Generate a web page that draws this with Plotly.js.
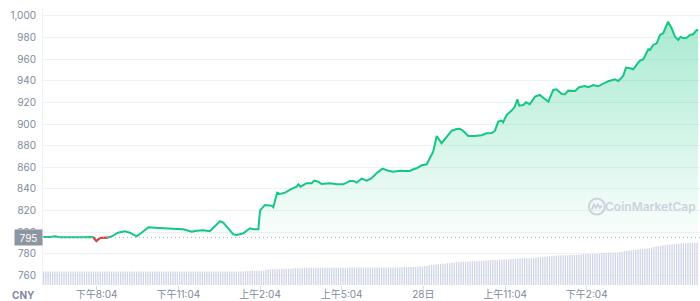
<!DOCTYPE html>
<html>
<head>
<meta charset="utf-8">
<script src="https://cdn.plot.ly/plotly-3.0.1.min.js"></script>
<style>
html,body{margin:0;padding:0;background:#fff;}
#chart{width:700px;height:301px;}
</style>
</head>
<body>
<div id="chart"></div>
<script>
// ---- data ----
const currency = "CNY";
const baselinePrice = 795;
const tickHours = [2, 5, 8, 11, 14, 17, 20];
const tickLabels = ["下午8:04", "下午11:04", "上午2:04", "上午5:04", "28日", "上午11:04", "下午2:04"];

const priceTime = [0.03,0.29,0.47,0.65,0.84,1.13,1.50,1.83,1.88,1.99,2.05,2.12,2.42,2.56,2.78,3.04,3.22,3.47,3.65,3.90,
4.14,4.39,4.57,4.81,5.18,5.49,5.67,5.92,6.16,6.35,6.53,6.65,6.83,7.02,7.14,7.39,7.63,7.75,7.94,8.00,
8.18,8.43,8.49,8.63,8.73,8.92,9.16,9.35,9.41,9.49,9.71,9.90,9.99,10.14,10.26,10.57,10.82,11.06,11.30,11.43,
11.55,11.73,11.92,12.10,12.28,12.50,12.71,12.89,13.14,13.50,13.63,13.75,13.94,14.12,14.36,14.49,14.67,14.86,15.04,15.22,
15.34,15.46,15.65,15.89,16.14,16.32,16.51,16.63,16.75,16.87,16.93,17.06,17.24,17.36,17.45,17.52,17.67,17.77,17.91,18.10,
18.28,18.46,18.59,18.77,18.89,19.08,19.20,19.32,19.45,19.57,19.72,19.93,20.06,20.24,20.42,20.61,20.79,21.04,21.16,21.34,
21.44,21.59,21.71,21.83,21.95,22.08,22.20,22.26,22.32,22.44,22.57,22.69,22.81,22.93,22.99,23.12,23.24,23.36,23.45,23.54,
23.67,23.79,23.91,24.04,24.09];

const priceValue = [795.4,795.4,796.1,795.2,795.2,795.0,795.2,795.4,795.0,791.6,793.1,794.6,795.0,796.1,799.4,800.7,799.4,796.1,799.4,804.4,
804.1,803.5,803.5,803.1,802.6,800.4,801.3,801.7,800.7,805.9,810.0,808.7,803.5,797.9,797.3,798.9,803.5,802.6,802.6,819.8,
825.1,824.4,823.0,836.5,835.3,836.5,839.9,842.0,844.2,842.0,845.2,845.2,847.6,846.6,844.5,845.2,844.2,844.2,847.3,847.3,
845.7,849.4,847.6,849.8,854.4,858.7,856.8,855.9,856.8,856.5,858.1,859.0,861.8,862.7,874.4,888.9,882.2,887.7,893.8,895.4,
895.7,893.8,888.9,888.9,889.6,891.4,891.7,893.8,902.2,903.1,901.6,908.4,912.4,916.1,922.9,917.0,917.6,920.1,918.3,925.3,
926.9,923.2,920.7,931.5,932.2,927.8,927.5,930.9,930.6,930.6,934.0,935.2,934.0,936.1,934.9,937.7,939.6,941.4,939.8,944.5,
952.2,951.6,950.7,954.7,958.6,959.9,966.0,969.2,968.5,973.2,974.7,982.4,984.0,991.7,994.7,988.6,980.8,977.8,980.8,979.4,
979.9,982.4,983.1,987.0,987.0];

// 24h volume, one bar every 5 minutes (12 per hour), starting at hour 0.05
const volumeStart = 0.05;
const volumeStep = 1 / 12;
const volumeValue = [
2.9,2.9,2.9,2.9,2.9,2.9,2.9,2.9,2.9,2.9,2.9,2.9,
2.9,2.9,2.9,2.9,2.9,2.9,2.9,2.9,2.9,2.9,2.9,2.9,
2.9,2.9,2.9,2.9,2.9,2.9,2.9,2.9,2.9,2.9,2.9,2.9,
2.9,2.9,2.9,2.9,2.9,2.9,2.9,2.9,2.9,2.9,2.9,2.9,
2.9,2.9,2.9,2.9,2.9,2.9,2.9,2.9,2.9,2.9,2.9,2.9,
2.9,2.9,2.9,2.9,2.9,2.9,2.9,2.9,2.9,2.9,2.9,2.9,
2.9,2.9,2.9,2.9,2.9,2.9,2.9,2.9,2.9,2.9,2.9,2.9,
2.9,2.9,2.9,2.9,2.9,3.0,3.0,3.1,3.1,3.1,3.1,3.1,
3.1,3.1,3.3,3.3,3.4,3.4,3.4,3.4,3.4,3.5,3.5,3.5,
3.5,3.5,3.6,3.6,3.6,3.6,3.6,3.7,3.7,3.7,3.7,3.7,
3.7,3.7,3.7,3.7,3.7,3.7,3.7,3.7,3.7,3.7,3.7,3.7,
3.7,3.7,3.7,3.8,3.8,3.8,3.8,3.8,3.8,3.8,3.8,3.8,
3.8,3.8,3.8,3.8,3.8,3.8,3.8,3.8,3.8,3.8,3.8,3.8,
3.8,3.8,3.9,3.9,3.9,3.9,3.9,3.9,3.9,4.0,4.0,4.0,
4.1,4.1,4.2,4.3,4.3,4.4,4.5,4.5,4.6,4.6,4.7,4.7,
4.8,4.8,4.9,5.0,5.0,5.0,5.0,5.0,5.1,5.1,5.1,5.1,
5.2,5.2,5.3,5.3,5.3,5.4,5.4,5.4,5.4,5.5,5.5,5.5,
5.5,5.5,5.6,5.6,5.7,5.7,5.7,5.7,5.8,5.8,5.8,5.8,
5.8,5.9,6.0,6.0,6.1,6.1,6.1,6.2,6.2,6.3,6.3,6.4,
6.4,6.4,6.4,6.4,6.5,6.5,6.5,6.5,6.6,6.6,6.7,6.7,
6.7,6.7,6.7,6.8,6.8,6.8,6.9,6.9,6.9,7.0,7.0,7.0,
7.0,7.0,7.1,7.2,7.3,7.4,7.5,7.5,7.6,7.6,7.7,7.7,
7.8,7.8,7.9,8.0,8.1,8.2,8.3,8.3,8.4,8.5,8.6,8.7,
8.7,8.8,8.8,8.9,8.9,9.0,9.0,9.0,9.1,9.1,9.1,9.1,
9.1];

// ---- build ----
if (priceTime.length !== priceValue.length) console.error("length mismatch", priceTime.length, priceValue.length);
const volumeTime = volumeValue.map((_, i) => volumeStart + i * volumeStep);

const GREEN = "#16c784", RED = "#ea3943";
const last = priceTime.length - 1;

// red segments: points below the baseline plus their neighbours
const redValue = priceValue.map((v, i) => {
  const below = (j) => j >= 0 && j <= last && priceValue[j] < baselinePrice;
  return (below(i) || below(i - 1) || below(i + 1)) ? v : null;
});

const traces = [
  { x: [priceTime[0], priceTime[last]], y: [baselinePrice, baselinePrice], type: "scatter", mode: "lines",
    line: { width: 0, color: "rgba(0,0,0,0)" }, hoverinfo: "skip", showlegend: false },
  { x: priceTime, y: priceValue, type: "scatter", mode: "lines", fill: "tonexty",
    fillgradient: { type: "vertical", start: baselinePrice, stop: 1000,
      colorscale: [[0, "rgba(22,199,132,0.02)"], [1, "rgba(22,199,132,0.38)"]] },
    line: { color: GREEN, width: 2, shape: "linear" }, showlegend: false },
  { x: priceTime, y: redValue, type: "scatter", mode: "lines", connectgaps: false,
    line: { color: RED, width: 2 }, showlegend: false },
  { x: volumeTime, y: volumeValue, type: "bar", yaxis: "y2", marker: { color: "#cfd4e5", line: { width: 0 } },
    showlegend: false, hoverinfo: "skip" }
];

const tickFont = { family: "Inter, 'Noto Sans CJK SC', sans-serif", size: 10, color: "#808a9d" };

const layout = {
  width: 700, height: 301,
  margin: { l: 43, r: 0, t: 7, b: 16, pad: 0 },
  paper_bgcolor: "#fff", plot_bgcolor: "#fff",
  bargap: 0.45,
  showlegend: false,
  xaxis: {
    range: [0.03, 24.16], showgrid: false, zeroline: false, showline: false,
    tickmode: "array", tickvals: tickHours, ticktext: tickLabels,
    ticks: "outside", ticklen: 4, tickcolor: "#d5dae6", tickfont: tickFont,
    ticklabelstandoff: -4
  },
  yaxis: {
    range: [751.0, 1008.3], tick0: 0, dtick: 20, tickformat: ",d",
    showgrid: true, gridcolor: "#eff2f5", gridwidth: 1, zeroline: false,
    showline: true, linecolor: "#eff2f5", linewidth: 1,
    ticks: "", tickfont: tickFont, ticklabelstandoff: 4
  },
  yaxis2: { overlaying: "y", range: [0, 60], visible: false, fixedrange: true },
  shapes: [
    { type: "line", xref: "paper", x0: 0, x1: 1, yref: "y", y0: baselinePrice, y1: baselinePrice,
      line: { color: "#a9b0bd", width: 1, dash: "1px,3px" }, layer: "above" },
    { type: "circle", xref: "paper", yref: "paper", xsizemode: "pixel", ysizemode: "pixel",
      xanchor: 0.843, yanchor: 0.282, x0: -8, x1: 8, y0: -8, y1: 8,
      line: { color: "#cdd2dc", width: 2 }, layer: "above" },
    { type: "path", xref: "paper", yref: "paper", xsizemode: "pixel", ysizemode: "pixel",
      xanchor: 0.843, yanchor: 0.282,
      path: "M -5 -3 L -3 2 L -1 -1 L 1 2 L 3 -1 L 5 1",
      line: { color: "#cdd2dc", width: 2 }, layer: "above" }
  ],
  annotations: [
    { text: String(baselinePrice), xref: "paper", x: 0, xanchor: "right", yref: "y", y: baselinePrice,
      showarrow: false, bgcolor: "#8e95a2", borderpad: 2,
      font: { family: "Inter, sans-serif", size: 10, color: "#ffffff" }, width: 23, height: 11 },
    { text: "<b>" + currency + "</b>", xref: "paper", x: -0.009, xanchor: "right", yref: "paper", y: -0.036, yanchor: "middle",
      showarrow: false, font: { family: "Inter, sans-serif", size: 10, color: "#808a9d" } },
    { text: "CoinMarketCap", xref: "paper", x: 0.924, xanchor: "center", yref: "paper", y: 0.282, yanchor: "middle",
      showarrow: false, font: { family: "Inter, sans-serif", size: 12, color: "#cdd2dc", weight: 600 } }
  ]
};

Plotly.newPlot("chart", traces, layout, { staticPlot: true, displayModeBar: false });
</script>
</body>
</html>
